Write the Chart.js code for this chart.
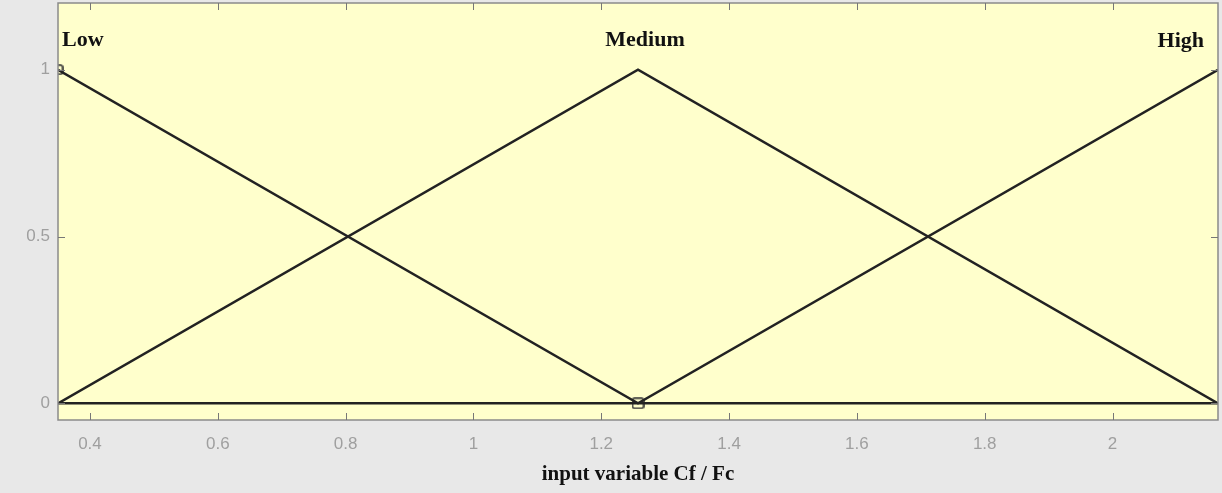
<!DOCTYPE html>
<html><head><meta charset="utf-8">
<script src="https://cdn.jsdelivr.net/npm/chart.js@4.4.1/dist/chart.umd.min.js"></script>
<style>html,body{margin:0;padding:0;background:#e8e8e8;}#wrap{width:1222px;height:493px;}</style>
</head><body><div id="wrap"><canvas id="c" width="1222" height="493"></canvas></div>
<script>
const xMin = 0.35, xMax = 2.165, xMid = 1.2575;
const xTicks = [0.4, 0.6, 0.8, 1.0, 1.2, 1.4, 1.6, 1.8, 2.0];
const yTicks = [0, 0.5, 1];
const mfNames = ["Low", "Medium", "High"];
const lowX = [xMin, xMid, xMax], lowY = [1, 0, 0];
const medX = [xMin, xMid, xMax], medY = [0, 1, 0];
const highX = [xMin, xMid, xMax], highY = [0, 0, 1];
const markerX = [xMin, xMid], markerY = [1, 0];

const pts = (xs, ys) => xs.map((x, i) => ({x, y: ys[i]}));
const lineDs = (label, xs, ys) => ({label, data: pts(xs, ys), borderColor: '#222', borderWidth: 2.5, pointRadius: 0, pointHoverRadius: 0, tension: 0, fill: false});

function squareMarker(w, h) {
  const c = document.createElement('canvas');
  c.width = w; c.height = h;
  const g = c.getContext('2d');
  g.strokeStyle = '#333';
  g.lineWidth = 1.6;
  const r = 2, x0 = 1, y0 = 1, x1 = w - 1, y1 = h - 1;
  g.beginPath();
  g.moveTo(x0 + r, y0); g.lineTo(x1 - r, y0); g.quadraticCurveTo(x1, y0, x1, y0 + r);
  g.lineTo(x1, y1 - r); g.quadraticCurveTo(x1, y1, x1 - r, y1);
  g.lineTo(x0 + r, y1); g.quadraticCurveTo(x0, y1, x0, y1 - r);
  g.lineTo(x0, y0 + r); g.quadraticCurveTo(x0, y0, x0 + r, y0);
  g.closePath(); g.stroke();
  return c;
}
const markA = squareMarker(11, 11), markB = squareMarker(13, 12);

const decor = {
  id: 'decor',
  beforeDraw(chart) {
    const {ctx, chartArea: a} = chart;
    ctx.save();
    ctx.fillStyle = '#e8e8e8';
    ctx.fillRect(0, 0, chart.width, chart.height);
    ctx.fillStyle = '#ffffcc';
    ctx.fillRect(a.left, a.top, a.right - a.left, a.bottom - a.top);
    ctx.restore();
  },
  afterDatasetsDraw(chart) {
    const {ctx, chartArea: a, scales: {x, y}} = chart;
    ctx.save();
    ctx.strokeStyle = '#8a8a8a';
    ctx.lineWidth = 1.5;
    ctx.strokeRect(a.left, a.top, a.right - a.left, a.bottom - a.top);
    ctx.strokeStyle = '#777';
    ctx.lineWidth = 1;
    const L = 7;
    xTicks.forEach(v => {
      const px = Math.round(x.getPixelForValue(v)) + 0.5;
      ctx.beginPath(); ctx.moveTo(px, a.bottom); ctx.lineTo(px, a.bottom - L); ctx.stroke();
      ctx.beginPath(); ctx.moveTo(px, a.top); ctx.lineTo(px, a.top + L); ctx.stroke();
    });
    yTicks.forEach(v => {
      const py = Math.round(y.getPixelForValue(v)) + 0.5;
      ctx.beginPath(); ctx.moveTo(a.left, py); ctx.lineTo(a.left + L, py); ctx.stroke();
      ctx.beginPath(); ctx.moveTo(a.right, py); ctx.lineTo(a.right - L, py); ctx.stroke();
    });
    // MF labels
    ctx.fillStyle = '#111';
    ctx.font = 'bold 22px "Liberation Serif", "Times New Roman", serif';
    ctx.textBaseline = 'middle';
    const ly = y.getPixelForValue(1) - 29;
    ctx.textAlign = 'left';
    ctx.fillText(mfNames[0], x.getPixelForValue(xMin) + 4, ly);
    ctx.textAlign = 'center';
    ctx.fillText(mfNames[1], x.getPixelForValue(xMid) + 7, ly);
    ctx.textAlign = 'right';
    ctx.fillText(mfNames[2], x.getPixelForValue(xMax) - 14, ly + 1);
    // axis title
    ctx.font = 'bold 21px "Liberation Serif", "Times New Roman", serif';
    ctx.textAlign = 'center';
    ctx.fillText('input variable Cf / Fc', (a.left + a.right) / 2, 475);
    ctx.restore();
  }
};

new Chart(document.getElementById('c'), {
  type: 'line',
  data: {
    datasets: [
      lineDs(mfNames[0], lowX, lowY),
      lineDs(mfNames[1], medX, medY),
      lineDs(mfNames[2], highX, highY),
      {label: 'sel', data: pts(markerX, markerY), showLine: false, borderWidth: 0,
       pointStyle: [markA, markB], pointRadius: 1, pointHoverRadius: 1, pointBorderWidth: 0, pointHoverBorderWidth: 0}
    ]
  },
  options: {
    responsive: false, animation: false,
    layout: {padding: {top: 3, right: 4, left: 0, bottom: 0}},
    plugins: {legend: {display: false}, tooltip: {enabled: false}},
    scales: {
      x: {
        type: 'linear', min: xMin, max: xMax,
        afterBuildTicks: s => { s.ticks = xTicks.map(v => ({value: v})); },
        afterFit: s => { s.height = 73; s.paddingLeft = 0; s.paddingRight = 0; },
        grid: {display: false, drawTicks: false},
        border: {display: false},
        ticks: {padding: 14, color: '#9f9f9f', font: {family: 'Arial, "Liberation Sans", sans-serif', size: 17},
                callback: v => String(Math.round(v * 10) / 10)}
      },
      y: {
        type: 'linear', min: -0.05, max: 1.2,
        afterBuildTicks: s => { s.ticks = yTicks.map(v => ({value: v})); },
        afterFit: s => { s.width = 58; s.paddingTop = 0; s.paddingBottom = 0; },
        grid: {display: false, drawTicks: false},
        border: {display: false},
        ticks: {padding: 8, color: '#9f9f9f', font: {family: 'Arial, "Liberation Sans", sans-serif', size: 17},
                callback: v => String(v)}
      }
    }
  },
  plugins: [decor]
});
</script></body></html>
